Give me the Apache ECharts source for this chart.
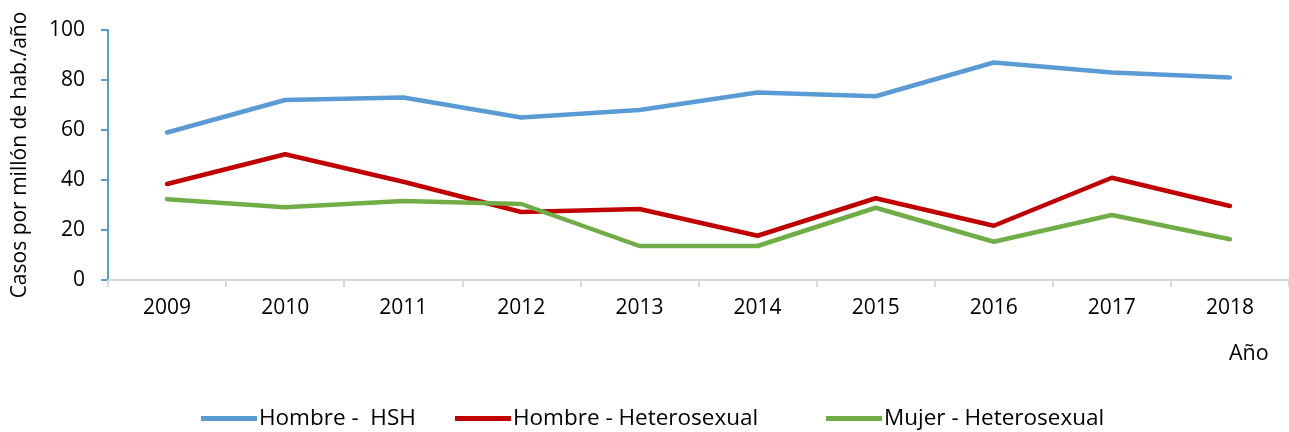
<!DOCTYPE html>
<html>
<head>
<meta charset="utf-8">
<script src="https://cdn.jsdelivr.net/npm/echarts@6/dist/echarts.min.js"></script>
<style>
  html, body { margin: 0; padding: 0; background: #fff; }
  #chart { width: 1289px; height: 432px; }
</style>
</head>
<body>
<div id="chart"></div>
<script>
// datos
const years = ['2009', '2010', '2011', '2012', '2013', '2014', '2015', '2016', '2017', '2018']
const hombreHSH = [59, 72, 73, 65, 68, 75, 73.5, 87, 83, 81]
const hombreHetero = [38.4, 50.3, 39.3, 27.2, 28.4, 17.7, 32.7, 21.7, 40.9, 29.6]
const mujerHetero = [32.3, 29.1, 31.6, 30.4, 13.6, 13.6, 28.9, 15.3, 26, 16.3]
const seriesNames = ['Hombre -  HSH', 'Hombre - Heterosexual', 'Mujer - Heterosexual']

const font = '"Open Sans", Lato, sans-serif'
const colors = ['#5B9BD5', '#C00000', '#70AD47']

const chart = echarts.init(document.getElementById('chart'))

const makeLine = (name, data, color) => ({
  name: name,
  type: 'line',
  data: data,
  symbol: 'none',
  lineStyle: { width: 4.5, color: color, cap: 'round', join: 'round' },
  itemStyle: { color: color }
})

// una leyenda por serie para fijar cada posición
const makeLegend = (name, left) => ({
  top: 402,
  left: left,
  icon: 'rect',
  itemWidth: 56,
  itemHeight: 5,
  textStyle: { fontSize: 22.5, color: '#000', fontFamily: font, padding: [0, 0, 0, -3] },
  data: [name]
})

const option = {
  animation: false,
  textStyle: { fontFamily: font },
  grid: { left: 108, top: 30, height: 250, width: 1193 },
  legend: [
    makeLegend(seriesNames[0], 196),
    makeLegend(seriesNames[1], 450),
    makeLegend(seriesNames[2], 821)
  ],
  xAxis: {
    type: 'category',
    data: years,
    boundaryGap: true,
    axisLine: { lineStyle: { color: '#D9D9D9', width: 2 } },
    axisTick: { show: true, interval: 0, length: 7, lineStyle: { color: '#D9D9D9', width: 2 } },
    axisLabel: { color: '#000', fontSize: 21, margin: 18, fontFamily: font }
  },
  yAxis: {
    type: 'value',
    min: 0,
    max: 100,
    interval: 20,
    name: 'Casos por millón de hab./año',
    nameLocation: 'middle',
    nameRotate: 90,
    nameGap: 77,
    nameTextStyle: { color: '#000', fontSize: 21, fontFamily: font },
    splitLine: { show: false },
    axisLine: { show: true, lineStyle: { color: '#5B9BD5', width: 2 } },
    axisTick: { show: true, length: 7, lineStyle: { color: '#5B9BD5', width: 2 } },
    axisLabel: { color: '#000', fontSize: 21, margin: 23, fontFamily: font }
  },
  graphic: [
    {
      type: 'text',
      left: 1229,
      top: 343,
      style: { text: 'Año', fontSize: 21.5, fill: '#000', fontFamily: font }
    }
  ],
  series: [
    makeLine(seriesNames[0], hombreHSH, colors[0]),
    makeLine(seriesNames[1], hombreHetero, colors[1]),
    makeLine(seriesNames[2], mujerHetero, colors[2])
  ]
}

chart.setOption(option)
</script>
</body>
</html>
